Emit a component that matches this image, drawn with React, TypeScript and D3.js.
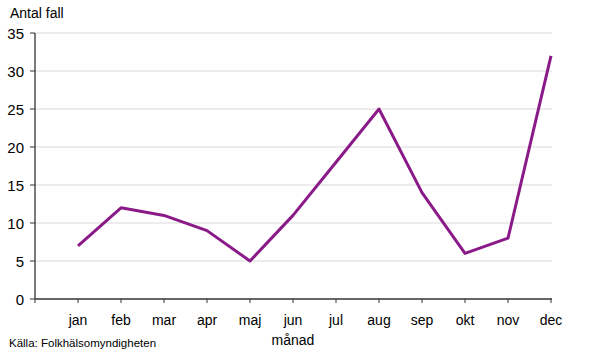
import React from "react";
import * as d3 from "d3";

const months = ["jan", "feb", "mar", "apr", "maj", "jun", "jul", "aug", "sep", "okt", "nov", "dec"];
const cases = [7, 12, 11, 9, 5, 11, 18, 25, 14, 6, 8, 32];
const yTicks = [0, 5, 10, 15, 20, 25, 30, 35];

const W = 590, H = 356;
const left = 35, right = 551, top = 33, bottom = 299;
const font = "'Liberation Sans', Arial, sans-serif";

export default function App() {
  const x = d3.scaleLinear().domain([-1, 11]).range([left, right]);
  const y = d3.scaleLinear().domain([0, 35]).range([bottom, top]);
  const line = d3.line<number>().x((_, i) => x(i)).y((d) => y(d));
  const xTickPos = d3.range(-1, 12);
  return (
    <svg width={W} height={H} style={{ position: "absolute", left: 0, top: 0, background: "#fff" }}>
      <text x={10} y={18} fontFamily={font} fontSize={14} fill="#000">Antal fall</text>
      {yTicks.map((t) => (
        <g key={t}>
          {t > 0 && <line x1={left} x2={right + 1} y1={y(t)} y2={y(t)} stroke="#d9d9d9" strokeWidth={1} />}
          <line x1={left - 5} x2={left} y1={y(t)} y2={y(t)} stroke="#333" strokeWidth={1} />
          <text x={24} y={y(t) + 5.5} textAnchor="end" fontFamily={font} fontSize={15} fill="#000">{t}</text>
        </g>
      ))}
      <line x1={left} x2={left} y1={top} y2={bottom} stroke="#333" strokeWidth={1.3} />
      <line x1={left} x2={right + 1} y1={bottom} y2={bottom} stroke="#333" strokeWidth={1.3} />
      {xTickPos.map((i) => (
        <line key={i} x1={x(i)} x2={x(i)} y1={bottom} y2={bottom + 4} stroke="#333" strokeWidth={1} />
      ))}
      {months.map((m, i) => (
        <text key={m} x={x(i)} y={325} textAnchor="middle" fontFamily={font} fontSize={14} fill="#000">{m}</text>
      ))}
      <text x={(left + right) / 2} y={345} textAnchor="middle" fontFamily={font} fontSize={14} fill="#000">månad</text>
      <path d={line(cases) || ""} fill="none" stroke="#8b1a89" strokeWidth={3} strokeLinejoin="round" />
      <text x={9} y={347} fontFamily={font} fontSize={11.5} fill="#000">Källa:  Folkhälsomyndigheten</text>
    </svg>
  );
}
